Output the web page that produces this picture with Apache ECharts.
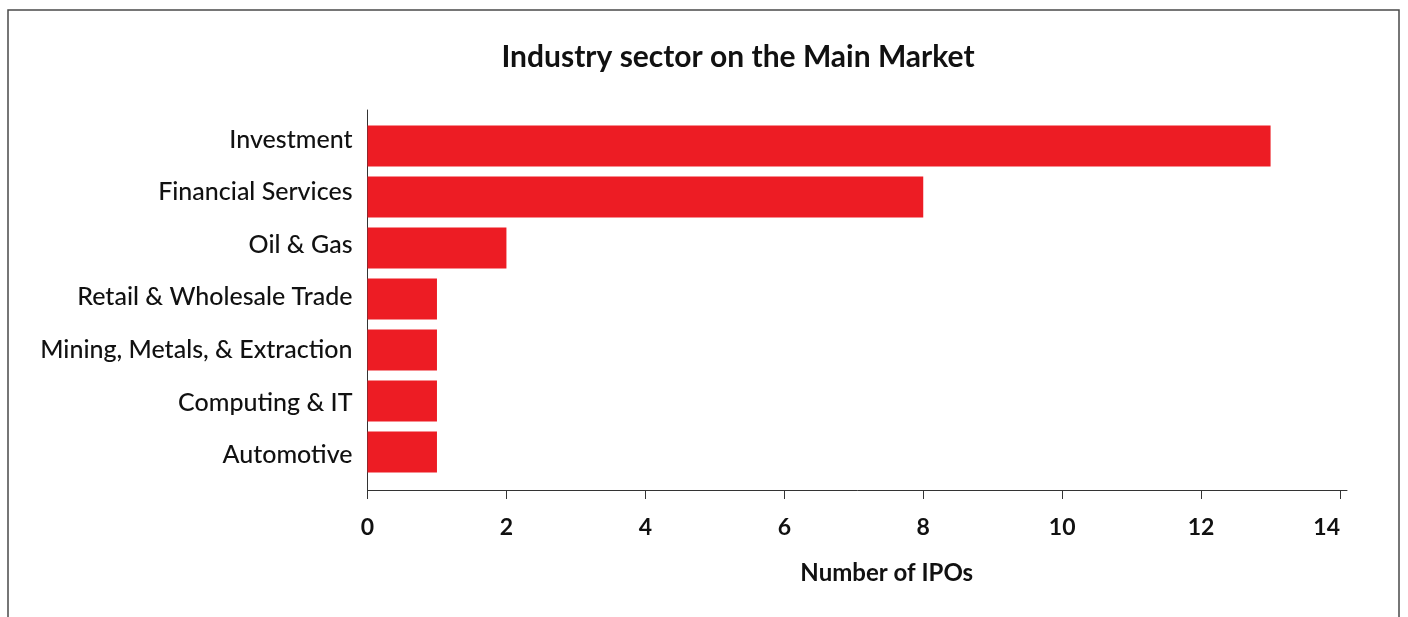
<!DOCTYPE html>
<html>
<head>
<meta charset="utf-8">
<title>Industry sector on the Main Market</title>
<script src="https://cdn.jsdelivr.net/npm/echarts@6/dist/echarts.min.js"></script>
<style>
  html, body { margin: 0; padding: 0; background: #fff; }
  #chart { width: 1408px; height: 617px; }
</style>
</head>
<body>
<div id="chart"></div>
<script>
// Data
const sectors = [
  'Investment',
  'Financial Services',
  'Oil & Gas',
  'Retail & Wholesale Trade',
  'Mining, Metals, & Extraction',
  'Computing & IT',
  'Automotive'
];
const ipoCounts = [13, 8, 2, 1, 1, 1, 1];
const xTicks = [0, 2, 4, 6, 8, 10, 12, 14];

const FONT = 'Lato, "Noto Sans", sans-serif';
const RED = '#ed1c24';
const AXIS = '#333';

const chart = echarts.init(document.getElementById('chart'));

chart.setOption({
  animation: false,
  title: {
    text: 'Industry sector on the Main Market',
    left: 738,
    top: 42,
    padding: 0,
    textAlign: 'center',
    textStyle: { fontFamily: FONT, fontSize: 30, fontWeight: 'bold', color: '#111' }
  },
  graphic: [{
    type: 'rect',
    shape: { x: 8, y: 10, width: 1391, height: 700 },
    style: { fill: 'none', stroke: '#4a4a4a', lineWidth: 1.5 },
    silent: true
  }],
  grid: [
    // outer grid: axis lines, x ticks and labels
    { left: 367.5, right: 61, top: 110, bottom: 127 },
    // bars
    { left: 367.5, right: 61, top: 120.5, bottom: 139.5 },
    // category labels (spaced a little wider than the bars in the original)
    { left: 367.5, right: 61, top: 113.4, bottom: 135.7 }
  ],
  xAxis: [
    {
      gridIndex: 0,
      type: 'value',
      min: 0,
      max: 14.1,
      name: 'Number of IPOs',
      nameLocation: 'middle',
      nameGap: 71,
      nameTextStyle: {
        fontFamily: FONT, fontSize: 24, fontWeight: 'bold', color: '#111',
        padding: [0, 0, 0, 59]
      },
      axisLine: { show: true, lineStyle: { color: AXIS, width: 1 } },
      axisTick: { show: true, length: 9, customValues: xTicks, lineStyle: { color: AXIS } },
      axisLabel: {
        customValues: xTicks,
        margin: 26,
        alignMaxLabel: 'right',
        fontFamily: FONT, fontSize: 23, fontWeight: 'bold', color: '#111'
      },
      splitLine: { show: false }
    },
    { gridIndex: 1, type: 'value', min: 0, max: 14.1, show: false },
    { gridIndex: 2, type: 'value', min: 0, max: 14.1, show: false }
  ],
  yAxis: [
    {
      gridIndex: 0,
      type: 'value',
      axisLine: { show: true, lineStyle: { color: AXIS, width: 1 } },
      axisTick: { show: false },
      axisLabel: { show: false },
      splitLine: { show: false }
    },
    {
      gridIndex: 1,
      type: 'category',
      inverse: true,
      data: sectors,
      show: false
    },
    {
      gridIndex: 2,
      type: 'category',
      inverse: true,
      data: sectors,
      axisLine: { show: false },
      axisTick: { show: false },
      axisLabel: {
        margin: 15,
        fontFamily: FONT, fontSize: 25, fontWeight: 500, color: '#111'
      }
    }
  ],
  series: [{
    type: 'bar',
    xAxisIndex: 1,
    yAxisIndex: 1,
    data: ipoCounts,
    barWidth: 41,
    itemStyle: { color: RED }
  }]
});
</script>
</body>
</html>
